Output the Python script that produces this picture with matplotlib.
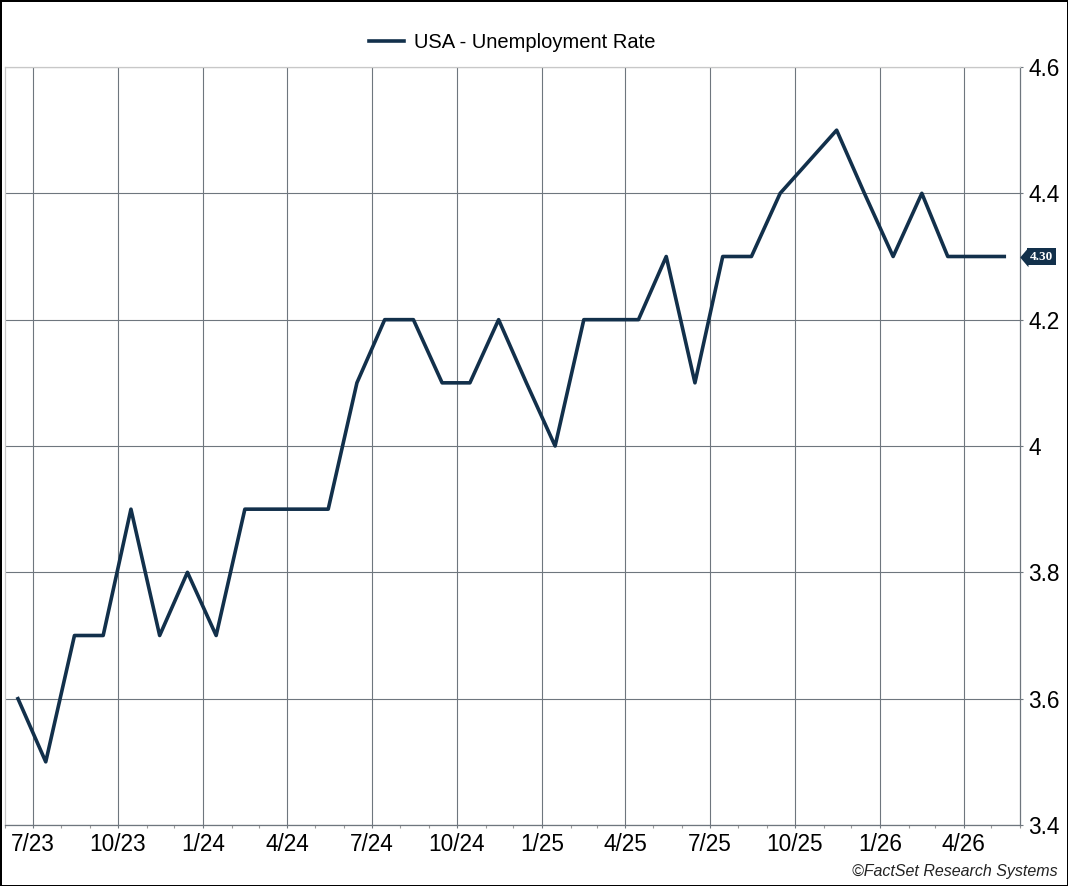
import numpy as np
import pandas as pd
import matplotlib
matplotlib.use('Agg')
import matplotlib.pyplot as plt
import matplotlib.dates as mdates
import matplotlib.transforms as mtransforms
from matplotlib.ticker import FixedLocator, FuncFormatter

plt.rcParams['font.family'] = ['Liberation Sans', 'DejaVu Sans']

# Данные: уровень безработицы в США, помесячно (октябрь 2025 отсутствует)
months = pd.date_range('2023-06-01', '2026-05-01', freq='MS') + pd.Timedelta(days=14)
months = months[months.strftime('%Y-%m') != '2025-10']
rate = [3.6, 3.5, 3.7, 3.7, 3.9, 3.7, 3.8,
        3.7, 3.9, 3.9, 3.9, 3.9, 4.1, 4.2, 4.2, 4.1, 4.1, 4.2, 4.1,
        4.0, 4.2, 4.2, 4.2, 4.3, 4.1, 4.3, 4.3, 4.4, 4.5, 4.4,
        4.3, 4.4, 4.3, 4.3, 4.3]
series_name = 'USA - Unemployment Rate'
y_ticks = [3.4, 3.6, 3.8, 4.0, 4.2, 4.4, 4.6]

navy = '#12304b'
grid_c = '#6e767e'

fig = plt.figure(figsize=(10.68, 8.86), dpi=100, edgecolor='black', linewidth=2)
ax = fig.add_axes([5 / 1068, 61 / 886, 1015 / 1068, 758 / 886])

line, = ax.plot(months, rate, color=navy, lw=2.6, label=series_name, zorder=3)

ax.set_xlim(pd.Timestamp('2023-06-01'), pd.Timestamp('2026-06-01'))
ax.set_ylim(3.4, 4.6)

# Оси X: кварталы + месяцы
ax.xaxis.set_major_locator(mdates.MonthLocator(bymonth=[1, 4, 7, 10]))
ax.xaxis.set_major_formatter(FuncFormatter(
    lambda v, p: '%d/%s' % (mdates.num2date(v).month, mdates.num2date(v).strftime('%y'))))
ax.xaxis.set_minor_locator(mdates.MonthLocator())

# Ось Y справа
ax.yaxis.tick_right()
ax.yaxis.set_major_locator(FixedLocator(y_ticks))
ax.yaxis.set_major_formatter(FuncFormatter(lambda v, p: '%g' % round(v, 1)))

ax.tick_params(axis='x', which='major', labelsize=16.3, length=2.5, width=0.8,
               color=grid_c, pad=3)
ax.tick_params(axis='x', which='minor', length=2, width=0.8, color='#999999')
ax.tick_params(axis='y', labelsize=16.3, length=2.5, width=0.8, color=grid_c, pad=3.5)

ax.grid(True, which='major', color=grid_c, lw=0.8)
for s in ['left', 'top']:
    ax.spines[s].set_color('#c8c8c8')
for s in ['right', 'bottom']:
    ax.spines[s].set_color(grid_c)
for s in ax.spines.values():
    s.set_linewidth(0.9)

# Метка последнего значения: прямоугольник + треугольник слева
trans = mtransforms.blended_transform_factory(ax.transAxes, ax.transData)
last = rate[-1]
ax.text(1 + 9.6 / 1015, last, '%.2f' % last, transform=trans, ha='left', va='center',
        color='white', fontsize=9.5, fontweight='bold', family='Liberation Serif',
        bbox=dict(boxstyle='square,pad=0.22', fc=navy, ec='none'), clip_on=False,
        zorder=5)
tip = [(-0.75, 0), (0.1, -1), (0.1, 1)]
ax.plot([1 + 7 / 1015], [last], marker=tip, ms=14, color=navy, mec='none',
        transform=trans, clip_on=False, zorder=4)

fig.legend(handles=[line], loc='center', bbox_to_anchor=(512 / 1068, 1 - 43 / 886),
           frameon=False, fontsize=14.5, handlelength=1.75, handletextpad=0.5)

fig.text(1058 / 1068, 10 / 886, '\u00a9FactSet Research Systems', ha='right',
         va='baseline', fontsize=11.5, style='italic', color='#222222')

fig.savefig('out.png', dpi=100)
